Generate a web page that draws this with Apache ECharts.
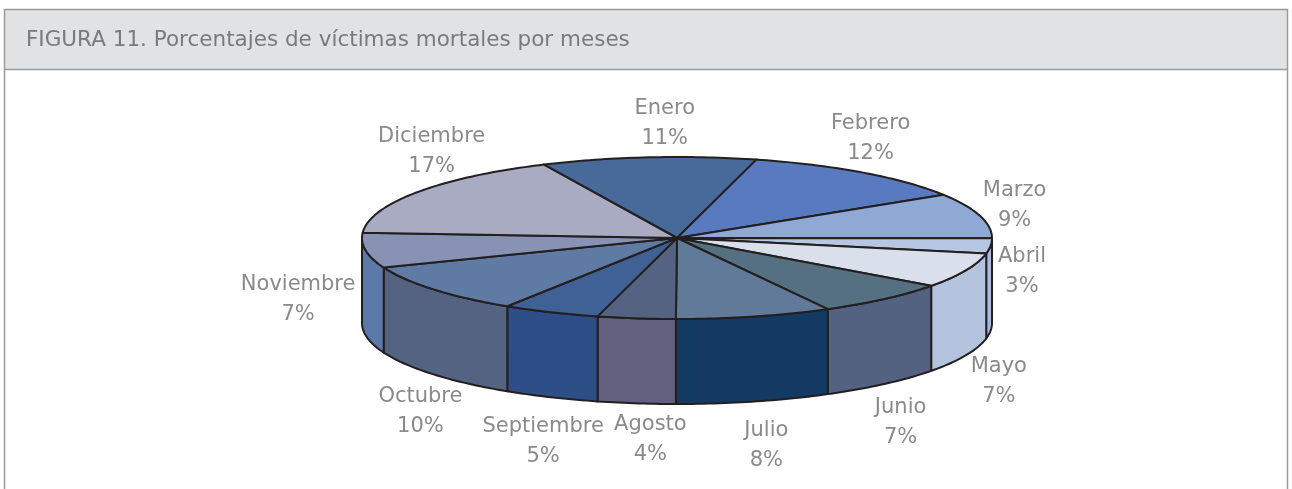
<!DOCTYPE html>
<html>
<head>
<meta charset="utf-8">
<title>Figura 11</title>
<script src="https://cdn.jsdelivr.net/npm/echarts@6/dist/echarts.min.js"></script>
<style>
  html, body { margin: 0; padding: 0; background: #fff; }
  #chart { width: 1292px; height: 489px; }
</style>
</head>
<body>
<div id="chart"></div>
<script>
// datos
const months = ['Enero', 'Febrero', 'Marzo', 'Abril', 'Mayo', 'Junio', 'Julio', 'Agosto', 'Septiembre', 'Octubre', 'Noviembre', 'Diciembre'];
const percents = [11, 12, 9, 3, 7, 7, 8, 4, 5, 10, 7, 17];

// colores: cara superior y pared lateral de cada porción
const topColors = ['#486a9b', '#5a7abf', '#8fa9d4', '#b7c6e2', '#d9e0ec', '#557080', '#627a9a', '#556382', '#3f6196', '#5f7aa3', '#8892b5', '#a9abc3'];
const sideColors = ['#486a9b', '#5a7abf', '#8fa9d4', '#a9bbdc', '#b5c4de', '#546282', '#133a63', '#625f7f', '#2d4e87', '#546381', '#5b79a9', '#a9abc3'];
// pequeños ajustes de las etiquetas (como hace Excel para que no se pisen)
const labelNudge = [[17, 2], [-2, -5], [0, 0], [0, -6], [6, 0], [6, 0], [10, -3], [15, -11], [-3, -1], [8, 2], [-5, -1], [46, -20]];

const FONT = '"DejaVu Sans", sans-serif';
const EDGE = '#231f20';
const LABEL_SIZE = 21;

// geometría del pastel 3D
const CX = 677, CY = 238, RX = 315, RY = 81, DEPTH = 85, START = -25;

const total = percents.reduce((a, b) => a + b, 0);
const angles = [START];
percents.forEach(v => angles.push(angles[angles.length - 1] + v / total * 360));

function pt(deg, dy) {
    let r = deg * Math.PI / 180;
    return [CX + RX * Math.sin(r), CY - RY * Math.cos(r) + (dy || 0)];
}

function arc(a, b, dy) {
    let n = Math.max(2, Math.ceil(Math.abs(b - a)));
    let pts = [];
    for (let k = 0; k <= n; k++) pts.push(pt(a + (b - a) * k / n, dy));
    return pts;
}

let measureCtx = document.createElement('canvas').getContext('2d');
measureCtx.font = LABEL_SIZE + 'px ' + FONT;

function labelPos(i) {
    let m = (angles[i] + angles[i + 1]) / 2 * Math.PI / 180;
    let s = Math.sin(m), c = Math.cos(m);
    let hw = measureCtx.measureText(months[i]).width / 2;
    let x = CX + s * (RX + 8) + Math.sign(s) * hw * Math.pow(Math.abs(s), 4);
    let y = CY - c * (RY + 36);
    if (c < 0) y += (DEPTH + 12) * Math.min(1, -3 * c);
    return [x + labelNudge[i][0], y + labelNudge[i][1]];
}

function renderSlice(params, api) {
    let i = params.dataIndex;
    let a = angles[i], b = angles[i + 1];
    let children = [];

    // pared frontal, visible entre 90° y 270°
    let s = Math.max(a, 90), e = Math.min(b, 270);
    if (e > s) {
        children.push({
            type: 'polygon',
            z2: 1,
            shape: { points: arc(s, e, 0).concat(arc(e, s, DEPTH)) },
            style: { fill: sideColors[i], stroke: EDGE, lineWidth: 2, lineJoin: 'round' }
        });
    }

    // cara superior
    children.push({
        type: 'polygon',
        z2: 5,
        shape: { points: [[CX, CY]].concat(arc(a, b, 0)) },
        style: { fill: topColors[i], stroke: EDGE, lineWidth: 2, lineJoin: 'round' }
    });

    let p = labelPos(i);
    children.push({
        type: 'text',
        z2: 10,
        style: {
            text: api.value(1) + '\n' + api.value(0) + '%',
            x: p[0],
            y: p[1],
            align: 'center',
            verticalAlign: 'middle',
            fill: '#8a8a8a',
            fontSize: LABEL_SIZE,
            fontFamily: FONT,
            lineHeight: 30
        }
    });

    return { type: 'group', children: children };
}

let myChart = echarts.init(document.getElementById('chart'));

let option = {
    animation: false,
    graphic: [
        {
            type: 'rect',
            shape: { x: 4.5, y: 9.5, width: 1283, height: 60 },
            style: { fill: '#e1e2e4', stroke: '#9b9b9b', lineWidth: 1.5 }
        },
        {
            type: 'line',
            shape: { x1: 4.5, y1: 69.5, x2: 4.5, y2: 489 },
            style: { stroke: '#9b9b9b', lineWidth: 1.5 }
        },
        {
            type: 'line',
            shape: { x1: 1287.5, y1: 69.5, x2: 1287.5, y2: 489 },
            style: { stroke: '#9b9b9b', lineWidth: 1.5 }
        },
        {
            type: 'text',
            left: 26,
            top: 29,
            style: {
                text: 'FIGURA 11. Porcentajes de víctimas mortales por meses',
                fill: '#7a7a7a',
                fontSize: 21.5,
                fontFamily: FONT
            }
        }
    ],
    series: [
        {
            type: 'custom',
            coordinateSystem: 'none',
            renderItem: renderSlice,
            dimensions: ['value', 'name'],
            data: percents.map((v, i) => [v, months[i]])
        }
    ]
};

myChart.setOption(option);
</script>
</body>
</html>
